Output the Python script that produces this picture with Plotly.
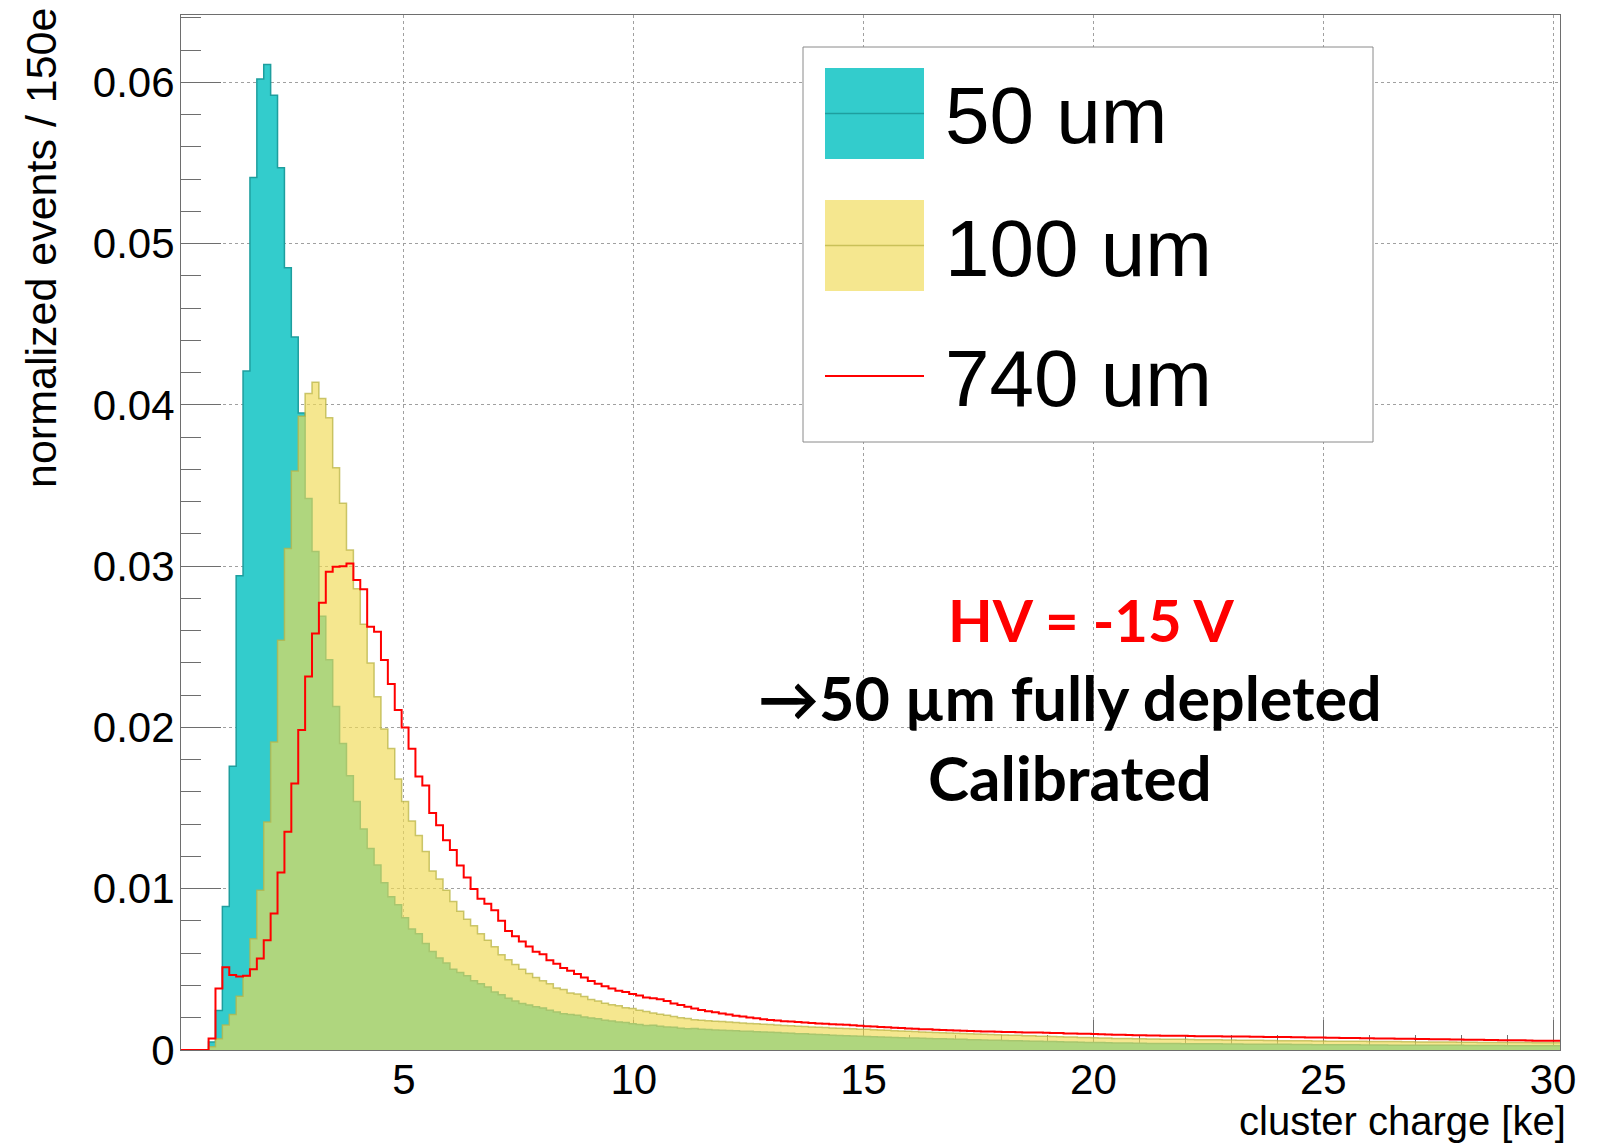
import plotly.graph_objects as go

# ---------------- data ----------------
BIN_LOW = 0.15      # ke, lower edge of first bin
BIN_WIDTH = 0.15    # ke (150 e per bin)
X_RANGE = [0.15, 30.15]
Y_RANGE = [0.0, 0.06417]

X_TICKS = [5, 10, 15, 20, 25, 30]
X_TICK_LABELS = ["5", "10", "15", "20", "25", "30"]
Y_TICKS = [0.0, 0.01, 0.02, 0.03, 0.04, 0.05, 0.06]
Y_TICK_LABELS = ["0", "0.01", "0.02", "0.03", "0.04", "0.05", "0.06"]

SERIES_NAMES = ["50 um", "100 um", "740 um"]

h50um = [
    0, 0, 0, 0, 0.0005, 0.00245, 0.0089, 0.0176, 0.0294, 0.0421,
    0.0541, 0.0602, 0.0611, 0.0592, 0.0547, 0.0485, 0.0442, 0.0395, 0.0342, 0.0309,
    0.0269, 0.0242, 0.0213, 0.0190, 0.0170, 0.0154, 0.0137, 0.0125, 0.01147, 0.01037,
    0.0095, 0.0090, 0.0082, 0.0075, 0.0072, 0.0066, 0.0061, 0.0057, 0.0054, 0.0050,
    0.0048, 0.0046, 0.0043, 0.0041, 0.0039, 0.0036, 0.00343, 0.00321, 0.00304, 0.00289,
    0.00279, 0.00268, 0.00261, 0.00247, 0.00236, 0.00225, 0.0022, 0.00215, 0.00205, 0.00198,
    0.00193, 0.00184, 0.0018, 0.00174, 0.0017, 0.00163, 0.00158, 0.00152, 0.00153, 0.00147,
    0.00142, 0.00141, 0.00135, 0.00131, 0.00133, 0.00128, 0.00127, 0.00124, 0.00123, 0.00121,
    0.00120, 0.00117, 0.00116, 0.00113, 0.00112, 0.00110, 0.00108, 0.00106, 0.00104, 0.00101,
    0.00100, 0.00098, 0.00096, 0.00094, 0.00092, 0.00090, 0.00089, 0.00087, 0.00085, 0.00083,
    0.00082, 0.00081, 0.00079, 0.00078, 0.00076, 0.00075, 0.00074, 0.00073, 0.00071, 0.00070,
    0.00069, 0.00068, 0.00067, 0.00066, 0.00064, 0.00063, 0.00062, 0.00061, 0.00060, 0.00059,
    0.00058, 0.00057, 0.00056, 0.00055, 0.00054, 0.00053, 0.00052, 0.00051, 0.00050, 0.00049,
    0.00048, 0.00047, 0.00047, 0.00046, 0.00045, 0.00044, 0.00044, 0.00043, 0.00042, 0.00042,
    0.00041, 0.00041, 0.00040, 0.00040, 0.00040, 0.00039, 0.00039, 0.00039, 0.00038, 0.00038,
    0.00038, 0.00037, 0.00037, 0.00037, 0.00036, 0.00036, 0.00036, 0.00035, 0.00035, 0.00035,
    0.00035, 0.00034, 0.00034, 0.00034, 0.00033, 0.00033, 0.00033, 0.00032, 0.00032, 0.00032,
    0.00032, 0.00031, 0.00031, 0.00031, 0.00031, 0.00030, 0.00030, 0.00030, 0.00030, 0.00030,
    0.00030, 0.00029, 0.00029, 0.00029, 0.00029, 0.00029, 0.00028, 0.00028, 0.00028, 0.00028,
    0.00028, 0.00028, 0.00027, 0.00027, 0.00027, 0.00027, 0.00027, 0.00027, 0.00027, 0.00027,
]

h100um = [
    0, 0, 0, 0, 0.0002, 0.0007, 0.00155, 0.0022, 0.00333, 0.00457,
    0.0069, 0.0099, 0.01413, 0.0191, 0.0254, 0.0311, 0.0359, 0.0393, 0.0407, 0.0414,
    0.0404, 0.0392, 0.0361, 0.0339, 0.0310, 0.0286, 0.0264, 0.0240, 0.0219, 0.0199,
    0.0187, 0.0168, 0.0154, 0.0142, 0.0133, 0.0123, 0.0111, 0.0106, 0.0099, 0.0092,
    0.0086, 0.0081, 0.0077, 0.0072, 0.0068, 0.0064, 0.0059, 0.0056, 0.0053, 0.0050,
    0.00475, 0.0045, 0.0043, 0.0041, 0.00385, 0.00375, 0.00353, 0.00347, 0.00332, 0.00313,
    0.00304, 0.0029, 0.0028, 0.00274, 0.00262, 0.00257, 0.00247, 0.00238, 0.0023, 0.00222,
    0.00216, 0.00208, 0.0020, 0.00195, 0.00188, 0.00185, 0.00182, 0.00179, 0.00176, 0.00173,
    0.00170, 0.00168, 0.00165, 0.00163, 0.00160, 0.00158, 0.00155, 0.00152, 0.00150, 0.00147,
    0.00145, 0.00143, 0.00141, 0.00139, 0.00137, 0.00135, 0.00133, 0.00131, 0.00129, 0.00128,
    0.00126, 0.00124, 0.00122, 0.00120, 0.00118, 0.00116, 0.00114, 0.00112, 0.00110, 0.00109,
    0.00107, 0.00105, 0.00104, 0.00102, 0.00100, 0.00099, 0.00098, 0.00096, 0.00095, 0.00093,
    0.00092, 0.00091, 0.00089, 0.00088, 0.00086, 0.00085, 0.00084, 0.00082, 0.00081, 0.00080,
    0.00078, 0.00077, 0.00076, 0.00075, 0.00074, 0.00072, 0.00072, 0.00071, 0.00070, 0.00069,
    0.00068, 0.00068, 0.00067, 0.00067, 0.00066, 0.00066, 0.00065, 0.00064, 0.00064, 0.00063,
    0.00063, 0.00062, 0.00062, 0.00061, 0.00061, 0.00060, 0.00060, 0.00059, 0.00059, 0.00058,
    0.00058, 0.00058, 0.00057, 0.00057, 0.00056, 0.00056, 0.00055, 0.00055, 0.00055, 0.00054,
    0.00054, 0.00054, 0.00053, 0.00053, 0.00052, 0.00052, 0.00052, 0.00051, 0.00051, 0.00050,
    0.00050, 0.00050, 0.00049, 0.00049, 0.00049, 0.00048, 0.00048, 0.00048, 0.00047, 0.00047,
    0.00047, 0.00047, 0.00046, 0.00046, 0.00046, 0.00046, 0.00045, 0.00045, 0.00045, 0.00045,
]

h740um = [
    0, 0, 0, 0, 0.00072, 0.00382, 0.00513, 0.00465, 0.00455, 0.0046,
    0.0050, 0.00568, 0.0068, 0.00847, 0.0110, 0.01353, 0.01653, 0.01984, 0.02315, 0.02583,
    0.02773, 0.02965, 0.02996, 0.0300, 0.03017, 0.02914, 0.02856, 0.02624, 0.02593, 0.02418,
    0.02269, 0.02108, 0.0200, 0.01867, 0.01695, 0.0164, 0.0147, 0.01394, 0.0130, 0.0124,
    0.01144, 0.0107, 0.00998, 0.00937, 0.00906, 0.00866, 0.00802, 0.00738, 0.00705, 0.00673,
    0.00641, 0.00609, 0.00594, 0.00556, 0.00535, 0.00509, 0.00492, 0.00471, 0.00449, 0.00428,
    0.00411, 0.00396, 0.00381, 0.00368, 0.0036, 0.00347, 0.00338, 0.00326, 0.00321, 0.00315,
    0.00304, 0.00289, 0.00279, 0.00268, 0.00257, 0.00248, 0.00241, 0.00234, 0.00227, 0.00220,
    0.00213, 0.00208, 0.00202, 0.00197, 0.00191, 0.00186, 0.00183, 0.00179, 0.00176, 0.00173,
    0.00170, 0.00168, 0.00165, 0.00163, 0.00160, 0.00158, 0.00156, 0.00153, 0.00151, 0.00148,
    0.00146, 0.00143, 0.00141, 0.00138, 0.00136, 0.00133, 0.00131, 0.00129, 0.00128, 0.00126,
    0.00124, 0.00122, 0.00121, 0.00119, 0.00118, 0.00116, 0.00115, 0.00114, 0.00113, 0.00112,
    0.00111, 0.00110, 0.00109, 0.00108, 0.00108, 0.00107, 0.00106, 0.00105, 0.00103, 0.00102,
    0.00101, 0.00100, 0.00099, 0.00098, 0.00096, 0.00095, 0.00094, 0.00093, 0.00092, 0.00091,
    0.00090, 0.00090, 0.00089, 0.00089, 0.00088, 0.00088, 0.00087, 0.00086, 0.00086, 0.00085,
    0.00085, 0.00084, 0.00084, 0.00083, 0.00083, 0.00082, 0.00082, 0.00081, 0.00081, 0.00080,
    0.00080, 0.00079, 0.00079, 0.00078, 0.00077, 0.00077, 0.00076, 0.00076, 0.00075, 0.00075,
    0.00074, 0.00073, 0.00073, 0.00072, 0.00071, 0.00071, 0.00070, 0.00070, 0.00069, 0.00068,
    0.00068, 0.00067, 0.00067, 0.00066, 0.00065, 0.00065, 0.00064, 0.00063, 0.00063, 0.00062,
    0.00062, 0.00061, 0.00061, 0.00060, 0.00060, 0.00059, 0.00058, 0.00058, 0.00057, 0.00057,
]

# ---------------- styling ----------------
W, H = 1604, 1144
ML, MR, MT, MB = 181, 44, 15, 94
PW = W - ML - MR
PH = H - MT - MB

TEAL = "#33cccc"
TEAL_LINE = "#1e9e9e"
YELLOW_FILL = "rgba(240,219,85,0.66)"
YELLOW_LINE = "rgba(185,180,70,0.75)"
RED = "#ff0000"
AXIS_FONT = "Liberation Sans, Arial, Helvetica, sans-serif"
NOTE_FONT = "Lato, Open Sans, sans-serif"


def px(xp):
    return (xp - ML) / PW


def py(yp):
    return (H - MB - yp) / PH


def step_xy(vals):
    edges = [BIN_LOW + BIN_WIDTH * i for i in range(len(vals) + 1)]
    return edges, list(vals) + [vals[-1]]


fig = go.Figure()

x50, y50 = step_xy(h50um)
fig.add_trace(go.Scatter(
    x=x50, y=y50, mode="lines", name=SERIES_NAMES[0],
    line=dict(shape="hv", color=TEAL_LINE, width=1.5),
    fill="tozeroy", fillcolor=TEAL, showlegend=False, hoverinfo="skip"))

x100, y100 = step_xy(h100um)
fig.add_trace(go.Scatter(
    x=x100, y=y100, mode="lines", name=SERIES_NAMES[1],
    line=dict(shape="hv", color=YELLOW_LINE, width=1.5),
    fill="tozeroy", fillcolor=YELLOW_FILL, showlegend=False, hoverinfo="skip"))

x740, y740 = step_xy(h740um)
fig.add_trace(go.Scatter(
    x=x740, y=y740, mode="lines", name=SERIES_NAMES[2],
    line=dict(shape="hv", color=RED, width=2),
    showlegend=False, hoverinfo="skip"))

axis_common = dict(
    showgrid=True, gridcolor="#a0a0a0", griddash="dot", gridwidth=1,
    showline=True, linecolor="#6e6e6e", linewidth=1, mirror=True,
    zeroline=False, ticks="inside", tickcolor="#6e6e6e", tickwidth=1,
    tickfont=dict(family=AXIS_FONT, size=42, color="black"),
    layer="below traces",
)

fig.update_xaxes(
    range=X_RANGE, tickmode="array", tickvals=X_TICKS, ticktext=X_TICK_LABELS,
    ticklen=30, ticklabelstandoff=-7,
    minor=dict(dtick=1, ticks="inside", ticklen=15, tickcolor="#6e6e6e", showgrid=False),
    **axis_common)

fig.update_yaxes(
    range=Y_RANGE, tickmode="array", tickvals=Y_TICKS, ticktext=Y_TICK_LABELS,
    ticklen=40, ticklabelstandoff=-3,
    minor=dict(dtick=0.002, ticks="inside", ticklen=20, tickcolor="#6e6e6e", showgrid=False),
    **axis_common)

shapes = []
# legend frame
shapes.append(dict(type="rect", xref="paper", yref="paper",
                   x0=px(803), x1=px(1373), y0=py(442), y1=py(47),
                   line=dict(color="#8a8a8a", width=1), fillcolor="white", layer="above"))
# legend symbols
shapes.append(dict(type="rect", xref="paper", yref="paper",
                   x0=px(825), x1=px(924), y0=py(159), y1=py(68),
                   line=dict(width=0), fillcolor=TEAL, layer="above"))
shapes.append(dict(type="line", xref="paper", yref="paper",
                   x0=px(825), x1=px(924), y0=py(113.5), y1=py(113.5),
                   line=dict(color=TEAL_LINE, width=1.5), layer="above"))
shapes.append(dict(type="rect", xref="paper", yref="paper",
                   x0=px(825), x1=px(924), y0=py(291), y1=py(200),
                   line=dict(width=0), fillcolor=YELLOW_FILL, layer="above"))
shapes.append(dict(type="line", xref="paper", yref="paper",
                   x0=px(825), x1=px(924), y0=py(245.5), y1=py(245.5),
                   line=dict(color=YELLOW_LINE, width=1.5), layer="above"))
shapes.append(dict(type="line", xref="paper", yref="paper",
                   x0=px(825), x1=px(924), y0=py(376), y1=py(376),
                   line=dict(color=RED, width=2), layer="above"))

annotations = []
legend_y = [116, 248, 378]
for name, yy in zip(SERIES_NAMES, legend_y):
    annotations.append(dict(
        text=name, xref="paper", yref="paper", x=px(944), y=py(yy),
        xanchor="left", yanchor="middle", showarrow=False, borderpad=0,
        font=dict(family=AXIS_FONT, size=80, color="black")))

annotations.append(dict(
    text="<b>HV = -15 V</b>", xref="paper", yref="paper", x=px(1091), y=py(619),
    xanchor="center", yanchor="middle", showarrow=False, borderpad=0,
    font=dict(family=NOTE_FONT, size=58, color=RED)))
annotations.append(dict(
    text="<b>\u219250 \u00b5m fully depleted</b>", xref="paper", yref="paper",
    x=px(1070), y=py(697), xanchor="center", yanchor="middle", showarrow=False,
    borderpad=0, font=dict(family=NOTE_FONT, size=61, color="black")))
annotations.append(dict(
    text="<b>Calibrated</b>", xref="paper", yref="paper", x=px(1070), y=py(777),
    xanchor="center", yanchor="middle", showarrow=False, borderpad=0,
    font=dict(family=NOTE_FONT, size=62, color="black")))

# axis titles
annotations.append(dict(
    text="cluster charge [ke]", xref="paper", yref="paper", x=px(1567), y=py(1121),
    xanchor="right", yanchor="middle", showarrow=False, borderpad=0,
    font=dict(family=AXIS_FONT, size=40, color="black")))
annotations.append(dict(
    text="normalized events / 150e", xref="paper", yref="paper", x=px(41), y=py(7),
    xanchor="center", yanchor="top", textangle=-90, showarrow=False, borderpad=0,
    font=dict(family=AXIS_FONT, size=43, color="black")))

fig.update_layout(
    width=W, height=H,
    margin=dict(l=ML, r=MR, t=MT, b=MB, pad=0),
    paper_bgcolor="white", plot_bgcolor="white",
    shapes=shapes, annotations=annotations,
    showlegend=False,
)

fig.write_html("out.html")
